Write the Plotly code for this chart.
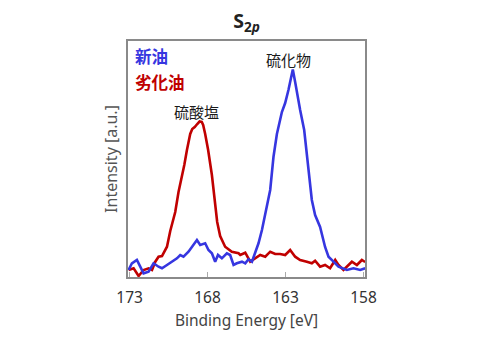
import plotly.graph_objects as go

# Binding energy (eV) and intensity (a.u.)
new_oil_energy = [173.06, 172.85, 172.53, 172.31, 172.10, 171.78, 171.46, 171.14, 170.92, 170.60,
                  170.28, 169.96, 169.75, 169.54, 169.22, 169.00, 168.68, 168.47, 168.15, 167.94,
                  167.72, 167.51, 167.33, 167.08, 166.76, 166.55, 166.33, 166.12, 165.79, 165.58,
                  165.37, 165.15, 164.94, 164.73, 164.51, 164.30, 164.09, 163.98, 163.77, 163.55,
                  163.23, 163.02, 162.81, 162.65, 162.53, 162.38, 162.27, 162.06, 161.80, 161.53,
                  161.31, 161.10, 160.78, 160.46, 160.24, 159.92, 159.60, 159.06, 158.64, 158.21,
                  157.89]
new_oil_intensity = [7, 13.7, 17, 10.3, 3.7, 5.3, 13.7, 10.3, 8.7, 12,
                     15.3, 18.7, 22, 20.3, 25.3, 30.3, 37, 32, 33.7, 27,
                     23.7, 15.3, 22, 18.7, 23.7, 22, 12, 13.7, 15.3, 13.7,
                     17.7, 15.3, 23.7, 33.7, 47, 63.7, 77, 87, 120, 143,
                     165, 174, 187, 200.3, 207.5, 195, 184, 167, 147, 107,
                     77, 62, 50, 30, 20.3, 15.3, 10.3, 7, 8.7, 7,
                     8.7]

aged_oil_energy = [173.06, 172.74, 172.42, 172.10, 171.78, 171.56, 171.35, 171.14, 170.92, 170.60,
                   170.39, 170.07, 169.86, 169.64, 169.49, 169.32, 169.11, 168.98, 168.82, 168.66,
                   168.51, 168.37, 168.28, 168.15, 167.96, 167.72, 167.54, 167.38, 167.19, 166.87,
                   166.44, 166.01, 165.90, 165.58, 165.26, 164.94, 164.62, 164.30, 163.98, 163.66,
                   163.34, 163.02, 162.70, 162.38, 162.06, 161.63, 161.31, 161.10, 160.78, 160.46,
                   160.14, 159.81, 159.60, 159.28, 159.06, 158.74, 158.42, 158.10, 157.89]
aged_oil_intensity = [7, 8.7, 1, 7, 8.7, 7, 15.3, 20.3, 21, 30.3,
                      46, 65, 85, 100, 112, 127, 143, 148, 150, 153,
                      155.5, 155, 152, 143, 127, 102, 77, 55, 41, 30.3,
                      25.3, 23.7, 22, 24.3, 15.3, 18.7, 22, 20.3, 25.3, 23,
                      23, 22, 27, 20.3, 17, 15.3, 13.7, 16.3, 10.3, 12,
                      8.7, 17, 12, 7, 10.3, 15.3, 12, 17, 15]

x_tick_values = [173, 168, 163, 158]
x_tick_labels = ["173", "168", "163", "158"]

series_names = ["新油", "劣化油"]
peak_labels = ["硫酸塩", "硫化物"]
peak_label_energy = [168.7, 162.8]
peak_label_intensity = [166, 218]

BLUE = "#3636e0"
RED = "#c00000"
FONT = "Noto Sans CJK JP"

fig = go.Figure()
fig.add_trace(go.Scatter(x=aged_oil_energy, y=aged_oil_intensity, mode="lines",
                         line=dict(color=RED, width=2.6), name=series_names[1]))
fig.add_trace(go.Scatter(x=new_oil_energy, y=new_oil_intensity, mode="lines",
                         line=dict(color=BLUE, width=2.6), name=series_names[0]))

for t, xe, yi in zip(peak_labels, peak_label_energy, peak_label_intensity):
    fig.add_annotation(x=xe, y=yi, text=t, showarrow=False,
                       font=dict(family=FONT, size=15, color="#1a1a1a"))

fig.add_annotation(x=0.02, y=0.935, xref="paper", yref="paper", xanchor="left", yanchor="middle",
                   text="<b>" + series_names[0] + "</b>", showarrow=False,
                   font=dict(family=FONT, size=16.5, color=BLUE))
fig.add_annotation(x=0.02, y=0.825, xref="paper", yref="paper", xanchor="left", yanchor="middle",
                   text="<b>" + series_names[1] + "</b>", showarrow=False,
                   font=dict(family=FONT, size=16.5, color=RED))

fig.update_layout(
    width=480, height=355,
    margin=dict(l=120, r=123, t=33, b=86),
    paper_bgcolor="white", plot_bgcolor="white",
    showlegend=False,
    title=dict(text="<b>S<sub>2<i>p</i></sub></b>", x=0.497, xanchor="center", y=0.962, yanchor="middle",
               font=dict(family="Noto Sans", size=19.5, color="#222222")),
    font=dict(family="Noto Sans", color="#333333"),
)
fig.update_xaxes(range=[173.1, 157.9], tickvals=x_tick_values, ticktext=x_tick_labels,
                 ticks="inside", ticklen=5, tickcolor="#aaaaaa", tickwidth=1,
                 showline=True, mirror=True, linecolor="#8a8a8a", linewidth=1.5,
                 showgrid=False, zeroline=False,
                 tickfont=dict(family="Noto Sans", size=15.5, color="#333333"),
                 ticklabelstandoff=6,
                 title=dict(text="Binding Energy [eV]", standoff=8,
                            font=dict(family="Noto Sans", size=15.5, color="#444444")))
fig.update_yaxes(range=[0, 236], showticklabels=False, ticks="",
                 showline=True, mirror=True, linecolor="#8a8a8a", linewidth=1.5,
                 showgrid=False, zeroline=False,
                 title=dict(text="Intensity [a.u.]", standoff=5,
                            font=dict(family="Noto Sans", size=16, color="#555555")))

fig.write_html("out.html")
